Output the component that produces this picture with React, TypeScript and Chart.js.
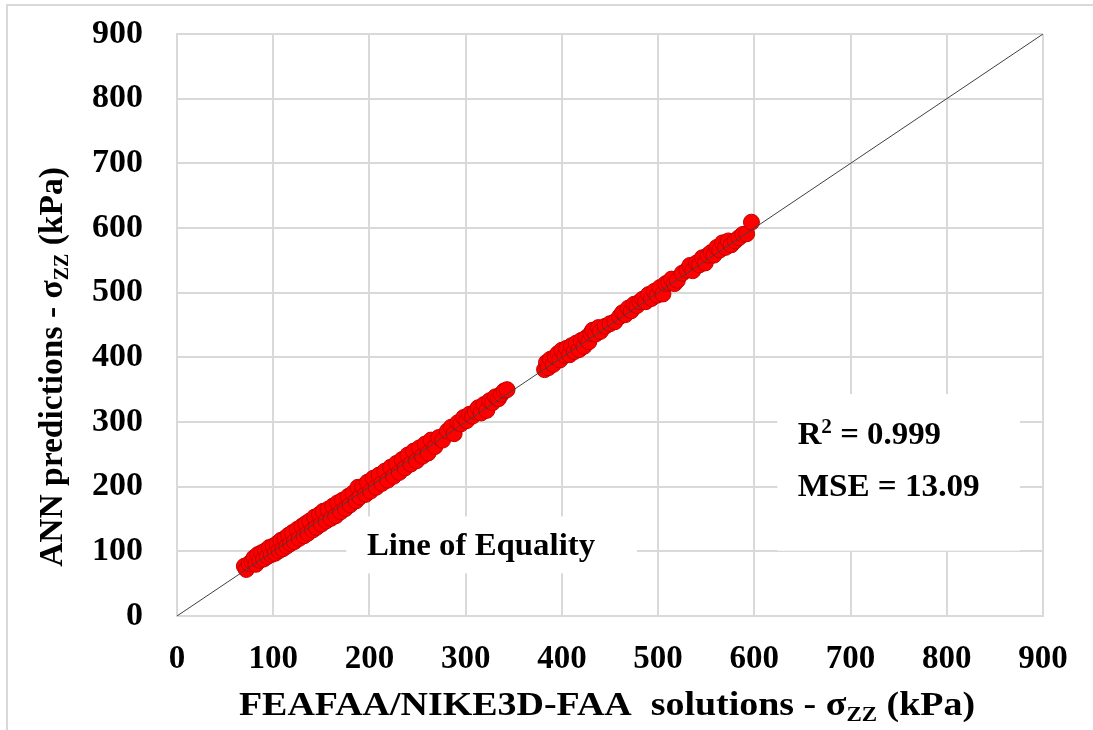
import React, { useEffect, useRef } from 'react';
import { Chart, registerables } from 'chart.js';

Chart.register(...registerables);

// FEAFAA/NIKE3D-FAA solutions (kPa)
const feaSolutions: number[] = [
  70, 72, 75, 78, 80, 82, 84, 86, 88, 90, 92, 94, 96, 98, 100, 102, 104, 106, 108, 110,
  112, 114, 116, 118, 120, 122, 125, 127, 130, 132, 134, 136, 138, 141, 143, 145, 148, 150, 152, 155,
  157, 160, 162, 165, 167, 170, 172, 175, 178, 180, 183, 186, 188, 190, 193, 196, 198, 201, 204, 207,
  210, 213, 216, 219, 222, 225, 228, 231, 234, 237, 240, 243, 246, 249, 252, 255, 258, 261, 264, 268,
  272, 276, 281, 285, 288, 292, 295, 298, 301, 304, 307, 310, 313, 316, 319, 322, 325, 328, 331, 334,
  337, 340, 343,
  382, 384, 386, 388, 391, 393, 396, 398, 400, 403, 405, 408, 410, 413, 415, 418, 420, 423, 425, 428,
  430, 432, 435, 438, 440, 445, 450, 455, 460, 463, 466, 469, 472, 475, 478, 481, 484, 487, 490, 493,
  496, 499, 502, 505, 508, 511, 514, 517, 520, 525, 530, 533, 536, 540, 543, 546, 549, 552, 555, 558,
  561, 564, 567, 570, 573, 576, 580, 584, 588, 592, 597,
];

// ANN predictions (kPa)
const annPredictions: number[] = [
  77, 72, 81, 84, 90, 80, 95, 86, 98, 88, 101, 92, 106, 95, 108, 97, 112, 101, 117, 104,
  120, 108, 125, 112, 129, 115, 134, 120, 139, 124, 143, 128, 147, 133, 153, 137, 157, 142, 162, 147,
  165, 151, 170, 155, 175, 161, 179, 166, 185, 172, 190, 178, 199, 184, 200, 188, 207, 193, 213, 199,
  218, 205, 224, 210, 230, 216, 236, 222, 242, 229, 249, 235, 255, 240, 260, 247, 266, 252, 272, 262,
  276, 272, 286, 292, 282, 299, 297, 307, 302, 312, 309, 316, 322, 314, 327, 318, 333, 330, 339, 336,
  343, 348, 350,
  381, 392, 384, 397, 389, 401, 406, 396, 411, 403, 414, 404, 418, 409, 422, 412, 426, 417, 430, 424,
  437, 442, 436, 446, 440, 448, 452, 455, 463, 469, 466, 476, 472, 482, 480, 486, 490, 486, 497, 491,
  502, 496, 508, 498, 514, 516, 521, 514, 519, 530, 535, 542, 534, 546, 543, 554, 546, 558, 562, 558,
  570, 566, 577, 570, 580, 574, 580, 585, 590, 591, 609,
];

// Line of equality end points
const equalityX: number[] = [0, 900];
const equalityY: number[] = [0, 900];

// Axis ticks
const axisTicks: number[] = [0, 100, 200, 300, 400, 500, 600, 700, 800, 900];

// Annotation texts
const equalityLabel = 'Line of Equality';
const r2Label = 'R';
const r2Sup = '2';
const r2Value = ' = 0.999';
const mseLabel = 'MSE = 13.09';
const xTitleParts = ['FEAFAA/NIKE3D-FAA  solutions - σ', 'ZZ', ' (kPa)'];
const yTitleParts = ['ANN predictions - σ', 'ZZ', ' (kPa)'];

const SERIF = '"Liberation Serif", "Times New Roman", Times, serif';

type Part = { text: string; size: number; dy?: number };

function drawParts(
  ctx: CanvasRenderingContext2D,
  parts: Part[],
  x: number,
  y: number,
  align: 'left' | 'center',
  scaleX: number
) {
  ctx.save();
  let total = 0;
  const widths = parts.map((p) => {
    ctx.font = `bold ${p.size}px ${SERIF}`;
    const w = ctx.measureText(p.text).width;
    total += w;
    return w;
  });
  ctx.translate(x, y);
  ctx.scale(scaleX, 1);
  let cx = align === 'center' ? -total / 2 : 0;
  ctx.textBaseline = 'alphabetic';
  ctx.textAlign = 'left';
  ctx.fillStyle = '#000000';
  parts.forEach((p, i) => {
    ctx.font = `bold ${p.size}px ${SERIF}`;
    ctx.fillText(p.text, cx, p.dy || 0);
    cx += widths[i];
  });
  ctx.restore();
}

const decorPlugin = {
  id: 'decor',
  beforeDraw(chart: any) {
    const ctx: CanvasRenderingContext2D = chart.ctx;
    ctx.save();
    ctx.strokeStyle = '#d9d9d9';
    ctx.lineWidth = 2;
    ctx.beginPath();
    ctx.moveTo(7, chart.height);
    ctx.lineTo(7, 5);
    ctx.lineTo(chart.width, 5);
    ctx.stroke();
    ctx.restore();
  },
  beforeDatasetsDraw(chart: any) {
    const ctx: CanvasRenderingContext2D = chart.ctx;
    const xs = chart.scales.x;
    const ys = chart.scales.y;
    ctx.save();
    ctx.fillStyle = '#ffffff';
    // Line of Equality label box
    const b1x = xs.getPixelForValue(176);
    const b1y = ys.getPixelForValue(154);
    ctx.fillRect(b1x, b1y, xs.getPixelForValue(478) - b1x, ys.getPixelForValue(66) - b1y);
    // Stats box
    const b2x = xs.getPixelForValue(624);
    const b2y = ys.getPixelForValue(343);
    ctx.fillRect(b2x, b2y, xs.getPixelForValue(876) - b2x, ys.getPixelForValue(101) - b2y);
    ctx.restore();

    drawParts(ctx, [{ text: equalityLabel, size: 31 }], xs.getPixelForValue(316), ys.getPixelForValue(95), 'center', 1.06);
    drawParts(
      ctx,
      [
        { text: r2Label, size: 31 },
        { text: r2Sup, size: 20, dy: -11 },
        { text: r2Value, size: 31 },
      ],
      xs.getPixelForValue(645),
      ys.getPixelForValue(266),
      'left',
      1.06
    );
    drawParts(ctx, [{ text: mseLabel, size: 31 }], xs.getPixelForValue(645), ys.getPixelForValue(185), 'left', 1.07);
  },
  afterDraw(chart: any) {
    const ctx: CanvasRenderingContext2D = chart.ctx;
    const area = chart.chartArea;
    // X axis title
    drawParts(
      ctx,
      [
        { text: xTitleParts[0], size: 33 },
        { text: xTitleParts[1], size: 20, dy: 6 },
        { text: xTitleParts[2], size: 33 },
      ],
      (area.left + area.right) / 2 - 3,
      area.bottom + 99,
      'center',
      1.15
    );
    // Y axis title
    ctx.save();
    ctx.translate(area.left - 115, (area.top + area.bottom) / 2 + 42);
    ctx.rotate(-Math.PI / 2);
    drawParts(
      ctx,
      [
        { text: yTitleParts[0], size: 33.5 },
        { text: yTitleParts[1], size: 20, dy: 6 },
        { text: yTitleParts[2], size: 33.5 },
      ],
      0,
      0,
      'center',
      1.0
    );
    ctx.restore();
  },
};

export default function App() {
  const canvasRef = useRef<HTMLCanvasElement | null>(null);

  useEffect(() => {
    document.body.style.margin = '0';
    const canvas = canvasRef.current;
    if (!canvas) return;

    const points = feaSolutions.map((x, i) => ({ x, y: annPredictions[i] }));
    const linePoints = equalityX.map((x, i) => ({ x, y: equalityY[i] }));

    const chart = new Chart(canvas, {
      type: 'scatter',
      data: {
        datasets: [
          {
            type: 'line',
            label: 'Line of Equality',
            data: linePoints,
            borderColor: '#404040',
            borderWidth: 1,
            pointRadius: 0,
            fill: false,
          } as any,
          {
            label: 'ANN vs FEAFAA',
            data: points,
            backgroundColor: '#ff0000',
            borderColor: '#c00000',
            borderWidth: 1,
            pointRadius: 8,
          },
        ],
      },
      options: {
        responsive: false,
        animation: false,
        maintainAspectRatio: false,
        layout: { padding: { top: 34, right: 50, left: 0, bottom: 0 } },
        plugins: {
          legend: { display: false },
          tooltip: { enabled: false },
        },
        scales: {
          x: {
            type: 'linear',
            min: axisTicks[0],
            max: axisTicks[axisTicks.length - 1],
            afterBuildTicks: (scale: any) => {
              scale.ticks = axisTicks.map((v) => ({ value: v }));
            },
            afterFit: (scale: any) => {
              scale.height = 114;
              scale.paddingLeft = 0;
              scale.paddingRight = 0;
            },
            grid: { color: '#d9d9d9', lineWidth: 2, drawTicks: false },
            border: { color: '#d9d9d9', width: 2 },
            ticks: {
              color: '#000000',
              padding: 24,
              maxRotation: 0,
              font: { family: SERIF, size: 33, weight: 'bold' },
            },
          },
          y: {
            type: 'linear',
            min: axisTicks[0],
            max: axisTicks[axisTicks.length - 1],
            afterBuildTicks: (scale: any) => {
              scale.ticks = axisTicks.map((v) => ({ value: v }));
            },
            afterFit: (scale: any) => {
              scale.width = 177;
              scale.paddingTop = 0;
              scale.paddingBottom = 0;
            },
            grid: { color: '#d9d9d9', lineWidth: 2, drawTicks: false },
            border: { color: '#d9d9d9', width: 2 },
            ticks: {
              color: '#000000',
              padding: 34,
              font: { family: SERIF, size: 34, weight: 'bold' },
            },
          },
        },
      },
      plugins: [decorPlugin],
    });

    return () => {
      chart.destroy();
    };
  }, []);

  return (
    <div style={{ width: 1093, height: 730, position: 'relative', background: '#ffffff' }}>
      <canvas ref={canvasRef} width={1093} height={730} style={{ display: 'block', width: 1093, height: 730 }} />
    </div>
  );
}
